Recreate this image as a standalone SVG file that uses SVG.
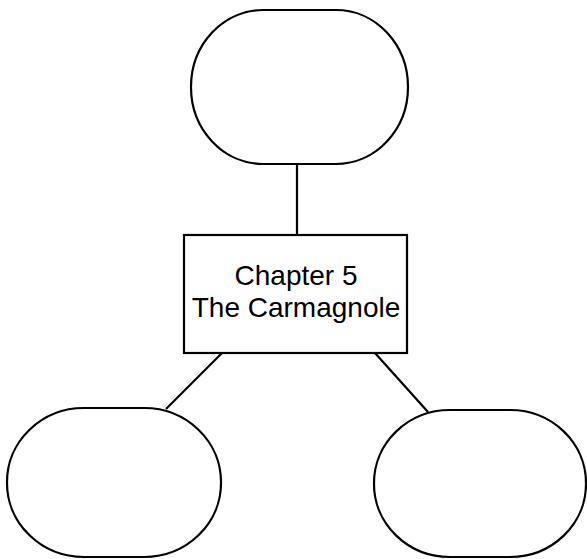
<svg xmlns="http://www.w3.org/2000/svg" width="587" height="559" viewBox="0 0 587 559">
  <style>
    .shape { fill: #ffffff; stroke: #000000; stroke-width: 2.2; }
    .link { stroke: #000000; stroke-width: 2.2; fill: none; }
    .label { font-family: "Liberation Sans", Arial, sans-serif; font-size: 28px; fill: #000000; text-anchor: middle; }
  </style>
  <rect width="587" height="559" fill="#ffffff"/>
  <g id="connectors">
    <line class="link" x1="297" y1="164" x2="297" y2="235"/>
    <line class="link" x1="222" y1="353" x2="166" y2="409"/>
    <line class="link" x1="375" y1="353" x2="428" y2="412"/>
  </g>
  <g id="top-oval">
    <rect class="shape" x="191" y="10" width="217" height="154" rx="72" ry="77"/>
  </g>
  <g id="chapter">
    <rect class="shape" x="184" y="235" width="223" height="118"/>
    <text class="label" x="296" y="285">Chapter 5</text>
    <text class="label" x="296" y="317">The Carmagnole</text>
  </g>
  <g id="left-oval">
    <rect class="shape" x="7" y="408" width="214" height="149" rx="77" ry="74"/>
  </g>
  <g id="right-oval">
    <rect class="shape" x="374" y="410" width="212" height="147" rx="76" ry="73"/>
  </g>
</svg>
